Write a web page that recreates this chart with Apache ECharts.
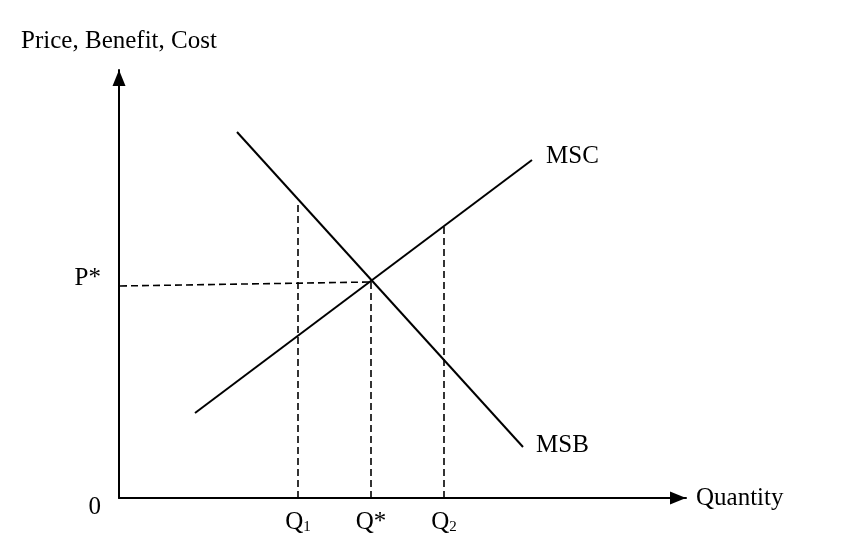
<!DOCTYPE html>
<html><head><meta charset="utf-8">
<script src="https://cdn.jsdelivr.net/npm/echarts@6/dist/echarts.min.js"></script>
<style>html,body{margin:0;padding:0;background:#fff}#c{width:864px;height:556px}</style>
</head><body><div id="c"></div>
<script>
// Data in chart units (origin at axes corner)
var mscLine = [[76, 85], [413, 338]];
var msbLine = [[118, 366], [404, 51]];
var pStarLine = [[1, 212], [252, 216]];
var q1Line = [[179, 0], [179, 297]];
var qStarLine = [[252, 0], [252, 216]];
var q2Line = [[325, 0], [325, 272]];
var xTickValues = [179, 252, 325];
var xTickLabels = ['{q|Q}{s|1}', '{q|Q*}', '{q|Q}{s|2}'];
var yTickValues = [0, 214];
var yTickLabels = ['{z|0}', '{p|P*}'];

var FONT = 'Liberation Serif';
var FS = 25;
var chart = echarts.init(document.getElementById('c'));
var dash = {color: '#000', width: 1.6, type: [7, 4]};
function dashed(d) {
  return {type: 'line', data: d, symbol: 'none', lineStyle: dash, silent: true, z: 1};
}
chart.setOption({
  backgroundColor: '#fff',
  animation: false,
  grid: {left: 119, right: 178, top: 70, bottom: 58},
  xAxis: {
    type: 'value', min: 0, max: 567,
    name: 'Quantity', nameLocation: 'end', nameGap: 10,
    nameTextStyle: {fontFamily: FONT, fontSize: FS, color: '#000'},
    axisLine: {show: true, symbol: ['none', 'triangle'], symbolSize: [13, 16], symbolOffset: [0, -8], lineStyle: {color: '#000', width: 2}},
    axisTick: {show: false}, splitLine: {show: false},
    axisLabel: {
      customValues: xTickValues, margin: 12,
      formatter: function (v) { return xTickLabels[xTickValues.indexOf(v)]; },
      rich: {
        q: {fontFamily: FONT, fontSize: FS, color: '#000'},
        s: {fontFamily: FONT, fontSize: 15, color: '#000', padding: [9, 0, 0, 0]}
      }
    }
  },
  yAxis: {
    type: 'value', min: 0, max: 428,
    name: 'Price, Benefit, Cost', nameLocation: 'end', nameGap: 16,
    nameTextStyle: {fontFamily: FONT, fontSize: FS, color: '#000'},
    axisLine: {show: true, symbol: ['none', 'triangle'], symbolSize: [13, 16], symbolOffset: [0, -8], lineStyle: {color: '#000', width: 2}},
    axisTick: {show: false}, splitLine: {show: false},
    axisLabel: {
      customValues: yTickValues, margin: 18,
      formatter: function (v) { return yTickLabels[yTickValues.indexOf(v)]; },
      rich: {
        z: {fontFamily: FONT, fontSize: FS, color: '#000', padding: [18, 0, 0, 0]},
        p: {fontFamily: FONT, fontSize: FS, color: '#000', padding: [0, 0, 12, 0]}
      }
    }
  },
  series: [
    {type: 'line', name: 'MSC', data: mscLine, symbol: 'none', lineStyle: {color: '#000', width: 2}, z: 3,
     endLabel: {show: true, formatter: 'MSC', fontFamily: FONT, fontSize: FS, color: '#000', offset: [6, -4]}},
    {type: 'line', name: 'MSB', data: msbLine, symbol: 'none', lineStyle: {color: '#000', width: 2}, z: 3,
     endLabel: {show: true, formatter: 'MSB', fontFamily: FONT, fontSize: FS, color: '#000', offset: [5, -2]}},
    dashed(pStarLine), dashed(q1Line), dashed(qStarLine), dashed(q2Line)
  ]
});
</script></body></html>
